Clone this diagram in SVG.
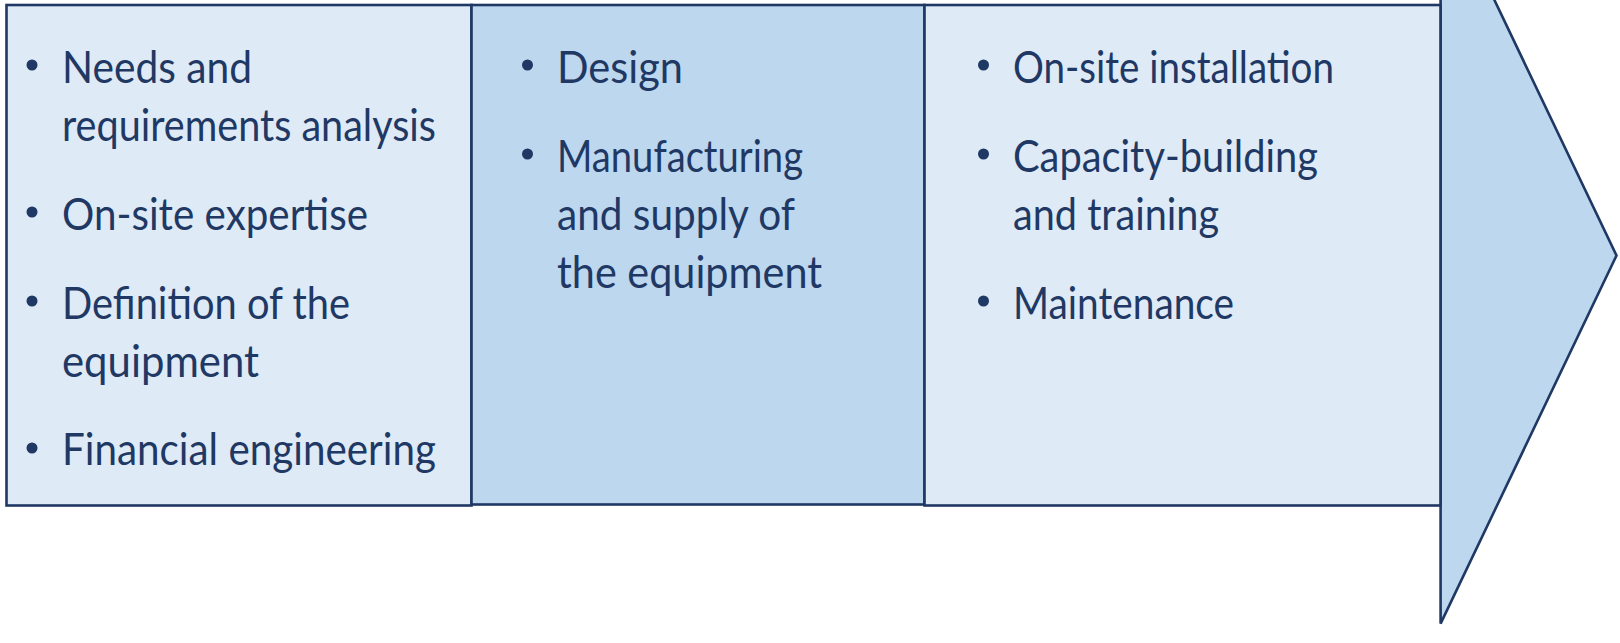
<svg xmlns="http://www.w3.org/2000/svg" width="1620" height="643" viewBox="0 0 1620 643">
<style>
.box{stroke:#1F3864;stroke-width:2.6}
.light{fill:#DEEAF6}
.mid{fill:#BDD7EE}
text{font-family:Lato,"Open Sans",sans-serif;font-size:44px;fill:#1F3864}
.b{fill:#1F3864}
</style>
<rect width="1620" height="643" fill="#FFFFFF"/>
<g id="arrow">
<polygon class="box mid" points="1440.6,-112.6 1616.5,255.5 1440.6,623.6"/>
</g>
<g id="stage1">
<rect class="box light" x="6.5" y="5" width="465" height="500.5"/>
<circle class="b" cx="32" cy="65" r="5.5"/>
<text x="62" y="83" textLength="190" lengthAdjust="spacingAndGlyphs">Needs and</text>
<text x="62" y="141" textLength="374" lengthAdjust="spacingAndGlyphs">requirements analysis</text>
<circle class="b" cx="32" cy="212" r="5.5"/>
<text x="62" y="229.5" textLength="306" lengthAdjust="spacingAndGlyphs">On-site expertise</text>
<circle class="b" cx="32" cy="301" r="5.5"/>
<text x="62" y="318.5" textLength="288" lengthAdjust="spacingAndGlyphs">Definition of the</text>
<text x="62" y="376.5" textLength="197" lengthAdjust="spacingAndGlyphs">equipment</text>
<circle class="b" cx="32" cy="448" r="5.5"/>
<text x="62" y="465" textLength="374" lengthAdjust="spacingAndGlyphs">Financial engineering</text>
</g>
<g id="stage2">
<rect class="box mid" x="471.5" y="5" width="453" height="499.5"/>
<circle class="b" cx="527.5" cy="65" r="5.5"/>
<text x="557" y="83" textLength="126" lengthAdjust="spacingAndGlyphs">Design</text>
<circle class="b" cx="527.5" cy="154" r="5.5"/>
<text x="557" y="171.5" textLength="246" lengthAdjust="spacingAndGlyphs">Manufacturing</text>
<text x="557" y="229.5" textLength="238" lengthAdjust="spacingAndGlyphs">and supply of</text>
<text x="557" y="287.5" textLength="265" lengthAdjust="spacingAndGlyphs">the equipment</text>
</g>
<g id="stage3">
<rect class="box light" x="924.5" y="5" width="516" height="500.5"/>
<circle class="b" cx="983.5" cy="65" r="5.5"/>
<text x="1013" y="83" textLength="321" lengthAdjust="spacingAndGlyphs">On-site installation</text>
<circle class="b" cx="983.5" cy="154" r="5.5"/>
<text x="1013" y="171.5" textLength="305" lengthAdjust="spacingAndGlyphs">Capacity-building</text>
<text x="1013" y="229.5" textLength="206" lengthAdjust="spacingAndGlyphs">and training</text>
<circle class="b" cx="983.5" cy="301" r="5.5"/>
<text x="1013" y="318.5" textLength="221" lengthAdjust="spacingAndGlyphs">Maintenance</text>
</g>
<g id="connectors"></g>
</svg>
